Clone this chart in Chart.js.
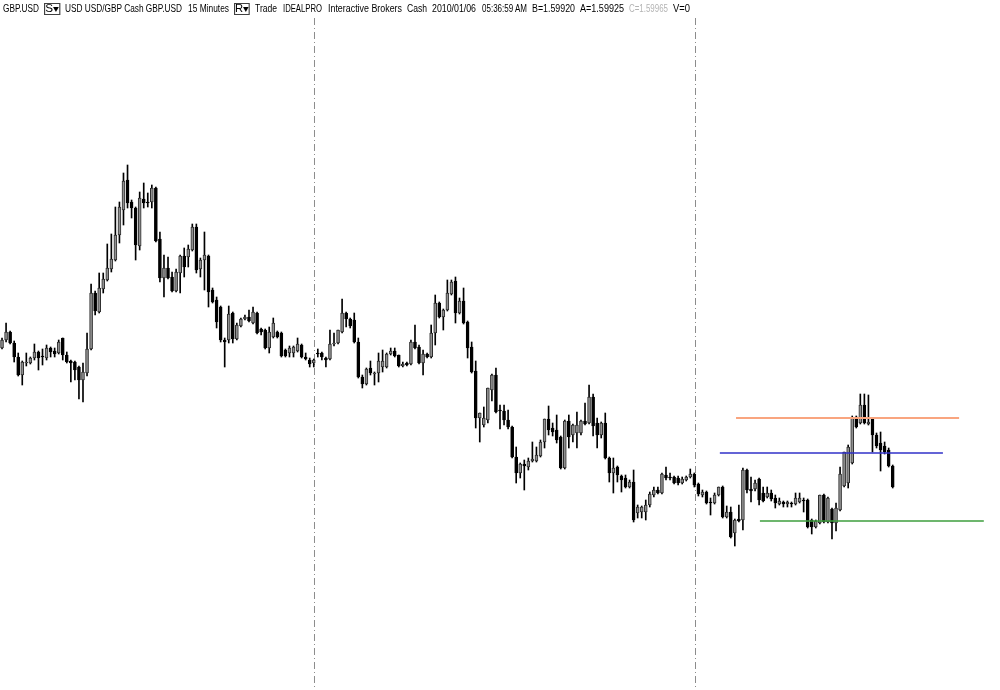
<!DOCTYPE html>
<html>
<head>
<meta charset="utf-8">
<script src="https://cdn.jsdelivr.net/npm/chart.js@4.4.1/dist/chart.umd.min.js"></script>
<style>
  html, body { margin: 0; padding: 0; background: #fff; }
  #wrap { position: relative; width: 1000px; height: 690px; overflow: hidden; }
  #header { position: absolute; left: 0; top: 0; width: 1000px; height: 18px; z-index: 2;
            font-family: "Liberation Sans", Arial, sans-serif; font-size: 10px; color: #000; }
  #header span { position: absolute; top: 4px; line-height: 10px; white-space: nowrap; transform-origin: 0 0; }
  #header .box { top: 3px; height: 10px; border: 1px solid #404040; line-height: 10px; box-sizing: content-box; }
  #header .grey { color: #b4b4b4; }
</style>
</head>
<body>
<div id="wrap">
  <div id="header">
    <span style="left:3px" data-w="36">GBP.USD</span>
    <span class="box" style="left:44px" data-w="16">S&#9662;</span>
    <span style="left:65px" data-w="117">USD USD/GBP Cash GBP.USD</span>
    <span style="left:188px" data-w="41">15 Minutes</span>
    <span class="box" style="left:234px" data-w="16">R&#9662;</span>
    <span style="left:255px" data-w="22">Trade</span>
    <span style="left:283px" data-w="39">IDEALPRO</span>
    <span style="left:328px" data-w="74">Interactive Brokers</span>
    <span style="left:407px" data-w="20">Cash</span>
    <span style="left:432px" data-w="44">2010/01/06</span>
    <span style="left:482px" data-w="45">05:36:59 AM</span>
    <span style="left:532px" data-w="43">B=1.59920</span>
    <span style="left:580px" data-w="44">A=1.59925</span>
    <span class="grey" style="left:629px" data-w="39">C=1.59965</span>
    <span style="left:673px" data-w="17">V=0</span>
  </div>
  <canvas id="chart" width="1000" height="690"></canvas>
</div>
<script>
// GBP.USD 15 minute bars
const opens = [
  1.6131,1.6139,1.6147,1.6136,1.6122,1.6104,1.6116,1.6116,1.6121,1.6127,
  1.6123,1.6121,1.6131,1.6128,1.6126,1.6141,1.6124,1.6118,1.6117,1.6112,
  1.6099,1.6106,1.6130,1.6186,1.6167,1.6190,1.6199,1.6210,1.6219,1.6244,
  1.6269,1.6299,1.6277,1.6271,1.6233,1.6280,1.6277,1.6277,1.6291,1.6240,
  1.6201,1.6211,1.6202,1.6188,1.6206,1.6223,1.6222,1.6229,1.6252,1.6210,
  1.6219,1.6223,1.6189,1.6179,1.6172,1.6139,1.6139,1.6166,1.6140,1.6153,
  1.6160,1.6162,1.6156,1.6166,1.6150,1.6149,1.6131,1.6142,1.6147,1.6146,
  1.6129,1.6126,1.6126,1.6128,1.6134,1.6122,1.6119,1.6116,1.6126,1.6126,
  1.6121,1.6120,1.6135,1.6136,1.6147,1.6166,1.6160,1.6159,1.6137,1.6102,
  1.6095,1.6111,1.6105,1.6106,1.6112,1.6112,1.6125,1.6128,1.6124,1.6113,
  1.6116,1.6115,1.6137,1.6132,1.6116,1.6125,1.6122,1.6146,1.6176,1.6162,
  1.6169,1.6185,1.6198,1.6166,1.6178,1.6157,1.6132,1.6108,1.6061,1.6054,
  1.6059,1.6089,1.6104,1.6069,1.6068,1.6059,1.6052,1.6022,1.6006,1.6015,
  1.6012,1.6018,1.6018,1.6023,1.6037,1.6060,1.6051,1.6049,1.6042,1.6011,
  1.6058,1.6044,1.6046,1.6046,1.6058,1.6056,1.6082,1.6056,1.6044,1.6056,
  1.6021,1.6006,1.6012,1.6003,1.6001,1.5992,1.5997,1.5966,1.5967,1.5967,
  1.5974,1.5984,1.5989,1.5986,1.6004,1.6002,1.6002,1.6001,1.5996,1.5999,
  1.6002,1.6005,1.5995,1.5984,1.5987,1.5977,1.5976,1.5984,1.5992,1.5962,
  1.5967,1.5946,1.5960,1.5959,1.6009,1.5990,1.5990,1.6000,1.5986,1.5982,
  1.5986,1.5981,1.5975,1.5977,1.5975,1.5976,1.5975,1.5977,1.5979,1.5979,
  1.5959,1.5952,1.5956,1.5984,1.5957,1.5970,1.5956,1.5969,1.5993,1.5996,
  1.6016,1.6062,1.6056,1.6074,1.6055,1.6060,1.6044,1.6036,1.6033,1.6029,
  1.6013
];
const highs = [
  1.6141,1.6156,1.6148,1.6138,1.6126,1.6118,1.6126,1.6122,1.6135,1.6128,
  1.6130,1.6134,1.6132,1.6131,1.6139,1.6141,1.6127,1.6119,1.6118,1.6113,
  1.6116,1.6146,1.6195,1.6188,1.6206,1.6206,1.6235,1.6245,1.6272,1.6277,
  1.6306,1.6314,1.6279,1.6272,1.6287,1.6296,1.6286,1.6294,1.6292,1.6247,
  1.6224,1.6222,1.6207,1.6210,1.6224,1.6231,1.6234,1.6255,1.6255,1.6221,
  1.6247,1.6224,1.6191,1.6182,1.6173,1.6141,1.6173,1.6167,1.6156,1.6161,
  1.6164,1.6169,1.6172,1.6167,1.6151,1.6150,1.6152,1.6161,1.6148,1.6147,
  1.6130,1.6133,1.6133,1.6141,1.6135,1.6126,1.6121,1.6120,1.6130,1.6127,
  1.6122,1.6149,1.6146,1.6149,1.6180,1.6167,1.6161,1.6166,1.6141,1.6104,
  1.6111,1.6118,1.6107,1.6126,1.6129,1.6126,1.6131,1.6131,1.6124,1.6117,
  1.6117,1.6139,1.6154,1.6134,1.6129,1.6126,1.6154,1.6184,1.6177,1.6170,
  1.6199,1.6199,1.6202,1.6181,1.6191,1.6158,1.6137,1.6118,1.6066,1.6072,
  1.6091,1.6105,1.6111,1.6074,1.6074,1.6069,1.6053,1.6032,1.6016,1.6019,
  1.6021,1.6037,1.6032,1.6039,1.6060,1.6073,1.6056,1.6064,1.6043,1.6059,
  1.6064,1.6055,1.6067,1.6059,1.6076,1.6094,1.6085,1.6061,1.6057,1.6066,
  1.6022,1.6021,1.6013,1.6004,1.6004,1.5999,1.6009,1.5974,1.5973,1.5979,
  1.5987,1.5992,1.5992,1.6006,1.6012,1.6006,1.6003,1.6003,1.6002,1.6003,
  1.6010,1.6006,1.5996,1.5989,1.5988,1.5981,1.5986,1.5992,1.5993,1.5973,
  1.5972,1.5960,1.5974,1.6011,1.6010,1.6002,1.5999,1.6001,1.5992,1.5992,
  1.5989,1.5984,1.5981,1.5978,1.5978,1.5977,1.5986,1.5986,1.5981,1.5980,
  1.5960,1.5959,1.5984,1.5985,1.5982,1.5971,1.5976,1.6012,1.6027,1.6034,
  1.6063,1.6063,1.6085,1.6085,1.6084,1.6061,1.6046,1.6047,1.6037,1.6031,
  1.6014
];
const lows = [
  1.6130,1.6137,1.6135,1.6117,1.6103,1.6094,1.6113,1.6115,1.6119,1.6109,
  1.6114,1.6119,1.6122,1.6122,1.6125,1.6119,1.6116,1.6097,1.6099,1.6080,
  1.6077,1.6103,1.6129,1.6164,1.6166,1.6186,1.6198,1.6207,1.6218,1.6236,
  1.6254,1.6271,1.6261,1.6219,1.6229,1.6271,1.6272,1.6271,1.6237,1.6197,
  1.6182,1.6200,1.6187,1.6187,1.6186,1.6202,1.6212,1.6228,1.6206,1.6202,
  1.6189,1.6172,1.6176,1.6151,1.6137,1.6112,1.6136,1.6136,1.6139,1.6152,
  1.6159,1.6157,1.6155,1.6145,1.6144,1.6130,1.6126,1.6141,1.6141,1.6122,
  1.6122,1.6122,1.6122,1.6127,1.6121,1.6119,1.6112,1.6112,1.6122,1.6119,
  1.6112,1.6119,1.6133,1.6135,1.6146,1.6152,1.6151,1.6136,1.6101,1.6091,
  1.6094,1.6104,1.6094,1.6097,1.6107,1.6111,1.6124,1.6122,1.6112,1.6112,
  1.6113,1.6114,1.6130,1.6115,1.6104,1.6121,1.6121,1.6134,1.6161,1.6149,
  1.6168,1.6184,1.6156,1.6165,1.6155,1.6121,1.6106,1.6051,1.6037,1.6052,
  1.6056,1.6078,1.6066,1.6050,1.6054,1.6050,1.6021,1.5996,1.6001,1.5989,
  1.6009,1.6017,1.6017,1.6022,1.6031,1.6044,1.6043,1.6036,1.6010,1.6010,
  1.6031,1.6037,1.6031,1.6044,1.6054,1.6055,1.6043,1.6031,1.6041,1.6020,
  1.5997,1.5986,1.5997,1.5987,1.5991,1.5991,1.5957,1.5961,1.5961,1.5959,
  1.5972,1.5982,1.5985,1.5985,1.5999,1.5999,1.5995,1.5994,1.5995,1.5998,
  1.6001,1.5992,1.5983,1.5982,1.5975,1.5964,1.5975,1.5983,1.5961,1.5961,
  1.5941,1.5933,1.5957,1.5949,1.5986,1.5977,1.5988,1.5974,1.5977,1.5981,
  1.5978,1.5971,1.5974,1.5972,1.5972,1.5972,1.5974,1.5976,1.5967,1.5951,
  1.5945,1.5951,1.5955,1.5956,1.5956,1.5940,1.5948,1.5968,1.5992,1.5991,
  1.6015,1.6051,1.6055,1.6055,1.6054,1.6027,1.6031,1.6008,1.6025,1.6012,
  1.5991
];
const closes = [
  1.6139,1.6147,1.6136,1.6122,1.6104,1.6117,1.6117,1.6121,1.6127,1.6121,
  1.6122,1.6131,1.6127,1.6125,1.6137,1.6124,1.6117,1.6116,1.6109,1.6099,
  1.6107,1.6130,1.6186,1.6168,1.6191,1.6200,1.6211,1.6220,1.6244,1.6272,
  1.6298,1.6276,1.6271,1.6234,1.6281,1.6276,1.6276,1.6291,1.6238,1.6201,
  1.6211,1.6201,1.6188,1.6207,1.6223,1.6212,1.6230,1.6252,1.6209,1.6219,
  1.6224,1.6187,1.6177,1.6157,1.6139,1.6137,1.6165,1.6140,1.6154,1.6160,
  1.6162,1.6158,1.6167,1.6146,1.6147,1.6131,1.6147,1.6156,1.6142,1.6123,
  1.6123,1.6131,1.6132,1.6135,1.6122,1.6120,1.6115,1.6119,1.6125,1.6122,
  1.6119,1.6135,1.6136,1.6149,1.6166,1.6160,1.6153,1.6137,1.6102,1.6095,
  1.6110,1.6106,1.6106,1.6118,1.6118,1.6125,1.6128,1.6123,1.6113,1.6115,
  1.6114,1.6137,1.6131,1.6116,1.6125,1.6122,1.6146,1.6176,1.6162,1.6169,
  1.6186,1.6197,1.6166,1.6178,1.6156,1.6131,1.6107,1.6061,1.6066,1.6061,
  1.6091,1.6104,1.6067,1.6068,1.6059,1.6052,1.6022,1.6006,1.6015,1.6013,
  1.6018,1.6020,1.6024,1.6037,1.6060,1.6049,1.6047,1.6039,1.6011,1.6058,
  1.6042,1.6054,1.6054,1.6058,1.6055,1.6082,1.6053,1.6044,1.6056,1.6021,
  1.6006,1.6011,1.6004,1.5999,1.5992,1.5997,1.5959,1.5972,1.5972,1.5974,
  1.5985,1.5989,1.5986,1.6005,1.6001,1.6001,1.5996,1.5996,1.6000,1.6002,
  1.6005,1.5994,1.5985,1.5987,1.5976,1.5976,1.5984,1.5992,1.5962,1.5967,
  1.5942,1.5959,1.5958,1.6009,1.5989,1.5988,1.5996,1.5979,1.5978,1.5986,
  1.5980,1.5976,1.5978,1.5975,1.5977,1.5975,1.5981,1.5981,1.5978,1.5952,
  1.5952,1.5958,1.5984,1.5957,1.5981,1.5956,1.5971,1.6005,1.6027,1.6032,
  1.6061,1.6052,1.6074,1.6056,1.6057,1.6044,1.6033,1.6029,1.6027,1.6013,
  1.5992
];

// session separators (bar positions) and the three drawn price levels
const sessionBreaks = [77.18, 171.29];
const levelPrices = [1.6061, 1.6026, 1.5958];
const levelStarts = [181.3, 177.3, 187.2];
const levelEnds = [236.4, 232.4, 242.5];
const levelColors = ["#f9a57f", "#3030c8", "#3c9e3c"];
const levelWidths = [2, 1.6, 1.6];

const yTop = 1.6479, yBottom = 1.5789;

const isUp = closes.map((c, i) => c > opens[i]);

const datasets = [];

// candle bodies
datasets.push({
  type: "bar",
  order: 1,
  grouped: false,
  barThickness: 3,
  minBarLength: 1,
  borderSkipped: false,
  borderWidth: 1,
  data: opens.map((o, i) => ({ x: i, y: [o, closes[i]] })),
  backgroundColor: isUp.map(u => u ? "#909090" : "#000000"),
  borderColor: isUp.map(u => u ? "#2e2e2e" : "#000000"),
});

// wicks
datasets.push({
  type: "bar",
  order: 2,
  grouped: false,
  barThickness: 1,
  minBarLength: 1,
  borderWidth: 0,
  data: lows.map((l, i) => ({ x: i, y: [l, highs[i]] })),
  backgroundColor: "#000000",
});

// dashed session separators
sessionBreaks.forEach(b => {
  datasets.push({
    type: "line",
    order: 3,
    data: [{ x: b, y: 1.6461 }, { x: b, y: yBottom }],
    borderColor: "#8c8c8c",
    borderWidth: 1,
    borderDash: [7, 3, 1, 3],
    pointRadius: 0,
    fill: false,
  });
});

// horizontal levels
levelPrices.forEach((p, k) => {
  datasets.push({
    type: "line",
    order: 0,
    data: [{ x: levelStarts[k], y: p }, { x: levelEnds[k], y: p }],
    borderColor: levelColors[k],
    borderWidth: levelWidths[k],
    pointRadius: 0,
    fill: false,
  });
});

new Chart(document.getElementById("chart").getContext("2d"), {
  type: "bar",
  data: { datasets },
  options: {
    responsive: false,
    animation: false,
    devicePixelRatio: 1,
    layout: { padding: 0 },
    scales: {
      x: { type: "linear", min: -0.5, max: 246.5, offset: false, display: false },
      y: { min: yBottom, max: yTop, display: false },
    },
    plugins: {
      legend: { display: false },
      tooltip: { enabled: false },
    },
  },
});

// squeeze the header words into the widths they take in the original
document.querySelectorAll("#header span[data-w]").forEach(s => {
  const w = s.getBoundingClientRect().width;
  s.style.transform = "scaleX(" + (s.dataset.w / w) + ")";
});
</script>
</body>
</html>
